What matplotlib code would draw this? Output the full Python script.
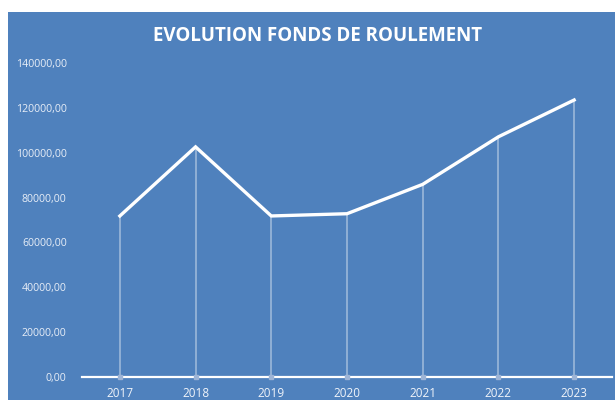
import matplotlib.pyplot as plt
from matplotlib.ticker import FuncFormatter

years = ["2017", "2018", "2019", "2020", "2021", "2022", "2023"]
fonds = [71800, 102600, 71800, 72800, 85900, 107100, 123500]
y_ticks = [0, 20000, 40000, 60000, 80000, 100000, 120000, 140000]

bg = "#4F81BD"
W, H = 615, 400

fig = plt.figure(figsize=(6.15, 4.0), dpi=100, facecolor="white")
# blue chart area (white margin top and left)
bg_ax = fig.add_axes([8 / W, 0, 1 - 8 / W, 1 - 12 / H], zorder=0)
bg_ax.set_facecolor(bg)
bg_ax.set_xticks([])
bg_ax.set_yticks([])
for s in bg_ax.spines.values():
    s.set_visible(False)

ax = fig.add_axes([82 / W, 23 / H, (612 - 82) / W, (377 - 63) / H], zorder=1)
ax.set_facecolor("none")

x = list(range(len(years)))
ax.vlines(x, 0, fonds, colors="white", alpha=0.4, linewidth=1.3, zorder=2)
ax.plot(x, fonds, color="white", linewidth=2.4, solid_joinstyle="miter", zorder=3)
ax.plot(x, [0] * len(x), ls="none", marker="s", ms=3.5, color="#9DB4D6",
        clip_on=False, zorder=4)

ax.set_xlim(-0.5, len(years) - 0.5)
ax.set_ylim(0, 140000)
ax.set_xticks(x)
ax.set_xticklabels(years, family="Open Sans", fontsize=8.5, color="#F0F4FA")
ax.set_yticks(y_ticks)
ax.yaxis.set_major_formatter(FuncFormatter(lambda v, p: f"{v:.2f}".replace(".", ",")))
for lab in ax.get_yticklabels():
    lab.set_family("Open Sans")
    lab.set_fontsize(7.6)
    lab.set_color("#E8EEF7")
ax.tick_params(axis="x", length=0, pad=7)
ax.tick_params(axis="y", length=0, pad=11)

for s in ["top", "right", "left"]:
    ax.spines[s].set_visible(False)
ax.spines["bottom"].set_color("white")
ax.spines["bottom"].set_linewidth(1.6)
ax.spines["bottom"].set_zorder(3.5)

fig.text(318 / W, 1 - 36 / H, "EVOLUTION FONDS DE ROULEMENT", ha="center", va="center",
         family="Open Sans", fontsize=13.5, fontweight="bold", color="white")

fig.savefig("out.png", dpi=100, facecolor="white")
